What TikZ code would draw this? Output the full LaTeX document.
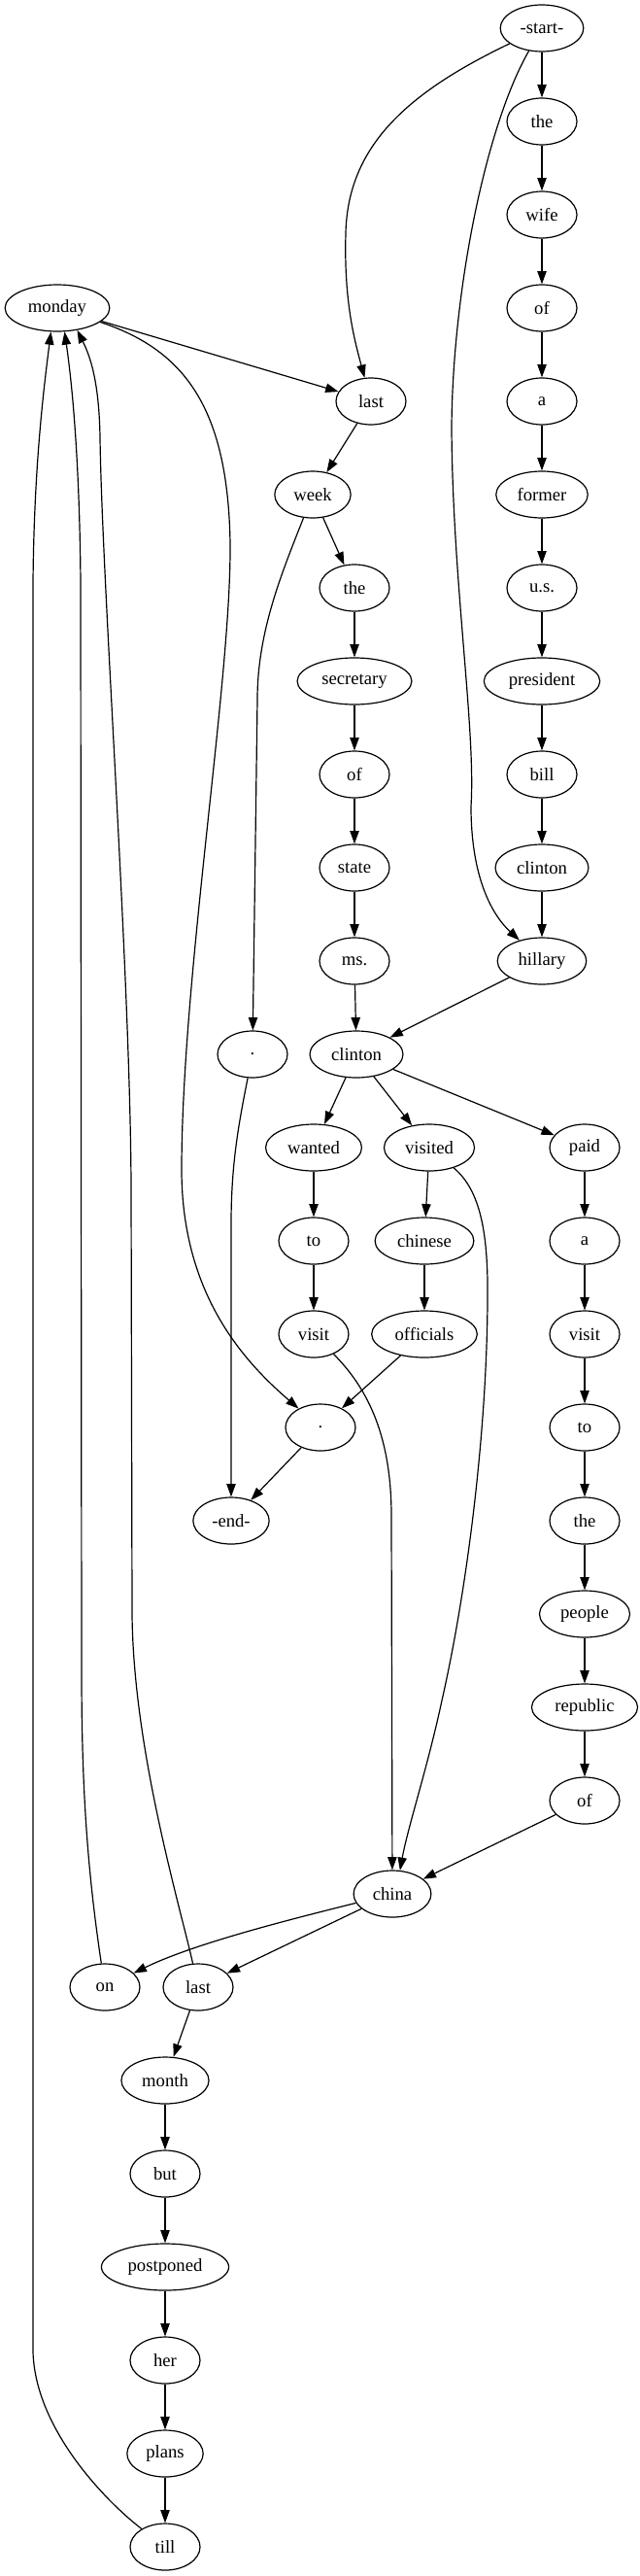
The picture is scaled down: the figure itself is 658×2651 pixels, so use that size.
\documentclass[tikz,border=0pt]{standalone}
\usepackage{fontspec}
\setmainfont{Liberation Serif}
\usepackage{tikz}
\usetikzlibrary{arrows.meta,shapes.geometric}
\tikzset{
  word/.style={draw,ellipse,line width=0.9pt,minimum width=54pt,minimum height=36pt,
               inner xsep=6pt,inner ysep=2pt,font=\fontsize{14}{16}\selectfont}, % one token
  ar/.style={-{Triangle[length=10pt,width=7pt]},line width=0.9pt}
}

\begin{document}
\begin{tikzpicture}[x=0.75pt,y=-0.75pt]
  \useasboundingbox (0,0) rectangle (658,2651);

  % right column
  \node[word] (start) at (558,29) {-start-};
  \node[word] (the1) at (558,125) {the};
  \node[word] (wife) at (558,221) {wife};
  \node[word] (of1) at (558,317) {of};
  \node[word] (a1) at (558,413) {a};
  \node[word] (former) at (558,509) {former};
  \node[word] (us) at (558,605) {u.s.};
  \node[word] (president) at (558,701) {president};
  \node[word] (bill) at (558,797) {bill};
  \node[word] (clinton1) at (558,893) {clinton};
  \node[word] (hillary) at (558,989) {hillary};

  % middle column
  \node[word] (monday) at (59,317) {monday};
  \node[word] (last1) at (382,413) {last};
  \node[word] (week) at (322,509) {week};
  \node[word] (the2) at (365,605) {the};
  \node[word] (secretary) at (365,701) {secretary};
  \node[word] (of2) at (365,797) {of};
  \node[word] (state) at (365,893) {state};
  \node[word] (ms) at (365,989) {ms.};
  \node[word] (dot1) at (260,1085) {.};
  \node[word] (clinton2) at (367,1085) {clinton};

  % three branches
  \node[word] (wanted) at (323,1181) {wanted};
  \node[word] (visited) at (442,1181) {visited};
  \node[word] (paid) at (602,1181) {paid};
  \node[word] (to1) at (323,1277) {to};
  \node[word] (chinese) at (437,1277) {chinese};
  \node[word] (a2) at (602,1277) {a};
  \node[word] (visit1) at (323,1373) {visit};
  \node[word] (officials) at (437,1373) {officials};
  \node[word] (visit2) at (602,1373) {visit};
  \node[word] (dot2) at (330,1469) {.};
  \node[word] (to2) at (602,1469) {to};
  \node[word] (endn) at (238,1565) {-end-};
  \node[word] (the3) at (602,1565) {the};
  \node[word] (people) at (602,1661) {people};
  \node[word] (republic) at (602,1757) {republic};
  \node[word] (of3) at (602,1853) {of};
  \node[word] (china) at (404,1949) {china};

  % bottom column
  \node[word] (on) at (108,2045) {on};
  \node[word] (last2) at (204,2045) {last};
  \node[word] (month) at (170,2141) {month};
  \node[word] (but) at (170,2237) {but};
  \node[word] (postponed) at (170,2333) {postponed};
  \node[word] (her) at (170,2429) {her};
  \node[word] (plans) at (170,2525) {plans};
  \node[word] (till) at (170,2621) {till};

  \draw[ar] (start) -- (the1);
  \draw[ar] (the1) -- (wife);
  \draw[ar] (wife) -- (of1);
  \draw[ar] (of1) -- (a1);
  \draw[ar] (a1) -- (former);
  \draw[ar] (former) -- (us);
  \draw[ar] (us) -- (president);
  \draw[ar] (president) -- (bill);
  \draw[ar] (bill) -- (clinton1);
  \draw[ar] (clinton1) -- (hillary);
  \draw[ar] (hillary) -- (clinton2);
  \draw[ar] (start) .. controls (420,95) and (358,150) .. (356,240)
                    .. controls (354,310) and (365,350) .. (last1);
  \draw[ar] (start) .. controls (500,130) and (466,300) .. (465,440)
                    .. controls (466,600) and (490,750) .. (485,830)
                    .. controls (485,900) and (505,940) .. (hillary);

  \draw[ar] (monday) -- (last1);
  \draw[ar] (last1) -- (week);
  \draw[ar] (week) -- (the2);
  \draw[ar] (the2) -- (secretary);
  \draw[ar] (secretary) -- (of2);
  \draw[ar] (of2) -- (state);
  \draw[ar] (state) -- (ms);
  \draw[ar] (ms) -- (clinton2);
  \draw[ar] (week) .. controls (290,590) and (265,650) .. (265,720) -- (dot1);
  \draw[ar] (dot1) .. controls (245,1160) and (238,1200) .. (238,1260) -- (endn);
  \draw[ar] (monday) .. controls (190,360) and (235,420) .. (237,560)
                     .. controls (238,700) and (188,1000) .. (187,1200)
                     .. controls (186,1330) and (250,1400) .. (dot2);

  \draw[ar] (clinton2) -- (wanted);
  \draw[ar] (clinton2) -- (visited);
  \draw[ar] (clinton2) -- (paid);
  \draw[ar] (wanted) -- (to1);
  \draw[ar] (to1) -- (visit1);
  \draw[ar] (visited) -- (chinese);
  \draw[ar] (chinese) -- (officials);
  \draw[ar] (officials) -- (dot2);
  \draw[ar] (dot2) -- (endn);
  \draw[ar] (paid) -- (a2);
  \draw[ar] (a2) -- (visit2);
  \draw[ar] (visit2) -- (to2);
  \draw[ar] (to2) -- (the3);
  \draw[ar] (the3) -- (people);
  \draw[ar] (people) -- (republic);
  \draw[ar] (republic) -- (of3);
  \draw[ar] (of3) -- (china);
  \draw[ar] (visit1) .. controls (380,1430) and (403,1480) .. (403,1560) -- (china);
  \draw[ar] (visited) .. controls (495,1225) and (503,1270) .. (502,1340)
                      .. controls (501,1480) and (480,1640) .. (455,1750)
                      .. controls (440,1820) and (420,1880) .. (china.72);

  \draw[ar] (china) .. controls (300,1975) and (200,2000) .. (on);
  \draw[ar] (china) -- (last2);
  \draw[ar] (last2) -- (month);
  \draw[ar] (month) -- (but);
  \draw[ar] (but) -- (postponed);
  \draw[ar] (postponed) -- (her);
  \draw[ar] (her) -- (plans);
  \draw[ar] (plans) -- (till);

  % back to monday
  \draw[ar] (on) .. controls (90,1925) and (84,1840) .. (84,1720) -- (83,600)
                 .. controls (82,480) and (75,400) .. (monday.287);
  \draw[ar] (last2) .. controls (185,1960) and (137,1800) .. (136,1660) -- (135,1220)
                    .. controls (134,1000) and (105,600) .. (103,450)
                    .. controls (102,390) and (92,365) .. (monday.312);
  \draw[ar] (till) .. controls (110,2575) and (36,2500) .. (34,2420) -- (34,600)
                   .. controls (35,480) and (45,400) .. (monday.255);
\end{tikzpicture}
\end{document}
